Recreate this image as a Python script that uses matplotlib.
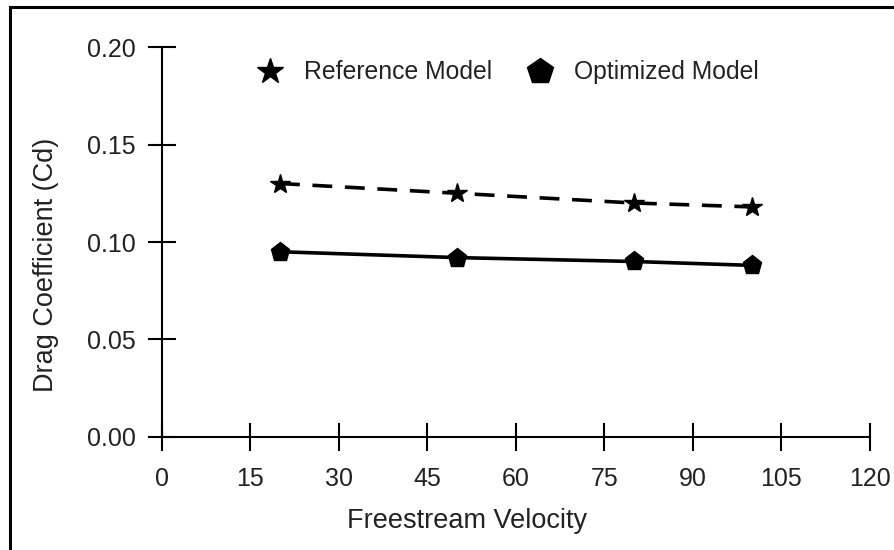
import matplotlib
matplotlib.use('Agg')
import matplotlib.pyplot as plt
from matplotlib.lines import Line2D

plt.rcParams['font.family'] = ['Liberation Sans', 'DejaVu Sans']

# data
velocity = [20, 50, 80, 100]
cd_reference = [0.130, 0.125, 0.120, 0.118]
cd_optimized = [0.095, 0.092, 0.090, 0.088]
xticks = [0, 15, 30, 45, 60, 75, 90, 105, 120]
yticks = [0.00, 0.05, 0.10, 0.15, 0.20]

fig = plt.figure(figsize=(8.95, 5.5), dpi=100)
ax = fig.add_axes([0.181, 0.2055, 0.791, 0.709])

ax.plot(velocity, cd_reference, color='black', lw=2.6, ls=(0, (5.5, 3.5)),
        marker='*', ms=15, label='Reference Model')
ax.plot(velocity, cd_optimized, color='black', lw=2.6, ls='-',
        marker='p', ms=14, label='Optimized Model')

ax.set_xlim(0, 120)
ax.set_ylim(0, 0.20)
ax.set_xticks(xticks)
ax.set_yticks(yticks)
ax.set_yticklabels([f'{v:.2f}' for v in yticks])

for s in ['top', 'right']:
    ax.spines[s].set_visible(False)
for s in ['left', 'bottom']:
    ax.spines[s].set_linewidth(1.5)

ax.tick_params(direction='inout', length=19.5, width=1.5, labelsize=18,
               colors='black', labelcolor='#222222')
ax.tick_params(axis='x', pad=12)
ax.tick_params(axis='y', pad=9)

# axis titles sit off-centre in the reference
ax.set_xlabel('Freestream Velocity', fontsize=19.5, color='#222222',
              labelpad=12, x=0.431)
ax.set_ylabel('Drag Coefficient (Cd)', fontsize=19.5, color='#222222',
              labelpad=20, y=0.441)

# legend shows markers only
handles = [Line2D([], [], color='black', ls='none', marker='*', ms=19),
           Line2D([], [], color='black', ls='none', marker='p', ms=19)]
ax.legend(handles, ['Reference Model', 'Optimized Model'],
          loc='center', bbox_to_anchor=(0.489, 0.935), ncol=2, frameon=False,
          fontsize=17.8, handlelength=1.0, columnspacing=1.4, handletextpad=0.9,
          labelcolor='#222222')

# outer frame, only top and left edges fall inside the image
fig.add_artist(Line2D([10 / 895, 1], [1 - 6.5 / 550] * 2, color='black', lw=2.2,
                      transform=fig.transFigure))
fig.add_artist(Line2D([10 / 895] * 2, [0, 1 - 6.5 / 550], color='black', lw=2.2,
                      transform=fig.transFigure))

fig.savefig('out.png', dpi=100)
